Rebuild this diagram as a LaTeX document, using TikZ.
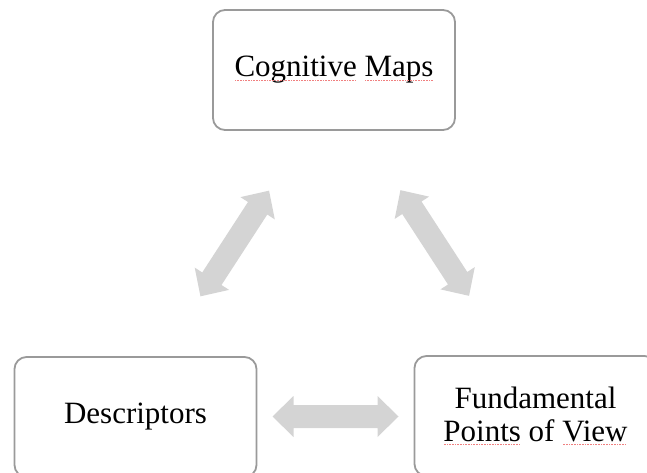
\documentclass[tikz,border=0pt]{standalone}
\usepackage{fontspec}
\setmainfont{Liberation Serif}
\usetikzlibrary{calc}

\definecolor{boxline}{HTML}{9A9A9A}
\definecolor{arrowfill}{HTML}{D4D4D4}
\definecolor{squig}{HTML}{F08080}

% word with a dotted red proofing mark underneath
\newcommand\spellmark[1]{\setbox0=\hbox{#1}\rlap{\copy0}\raisebox{-3.5pt}{\color{squig}\leaders\hbox to 1.6pt{\hss\rule{0.8pt}{0.8pt}\hss}\hskip\wd0}}

\tikzset{
  conceptbox/.style={draw=boxline, line width=1.8pt, rounded corners=12pt,
    fill=white, minimum width=242pt, minimum height=120pt, align=center,
    inner sep=0pt, font=\fontsize{31}{33}\selectfont},
  twohead/.pic={
    \fill[arrowfill] (-63,0) -- (-42,20.5) -- (-42,11.5) -- (42,11.5) -- (42,20.5)
      -- (63,0) -- (42,-20.5) -- (42,-11.5) -- (-42,-11.5) -- (-42,-20.5) -- cycle;
  }
}

\begin{document}
\begin{tikzpicture}[x=1pt, y=1pt]
  \useasboundingbox (0,0) rectangle (647,472);
  \clip (0,0) rectangle (647,472);

  \node[conceptbox] (maps) at (334,402) {\spellmark{Cognitive} \spellmark{Maps}};
  \node[conceptbox] (desc) at (135.5,55) {Descriptors};
  \node[conceptbox] (fpv)  at (535.5,56) {Fundamental\\\spellmark{Points} of \spellmark{View}};

  % double-headed block arrows between the boxes
  \pic[rotate=57]  at ($(maps)!0.5!(desc)$) {twohead};
  \pic[rotate=-57] at ($(maps)!0.5!(fpv)$)  {twohead};
  \pic             at ($(desc)!0.5!(fpv)$)  {twohead};
\end{tikzpicture}
\end{document}
